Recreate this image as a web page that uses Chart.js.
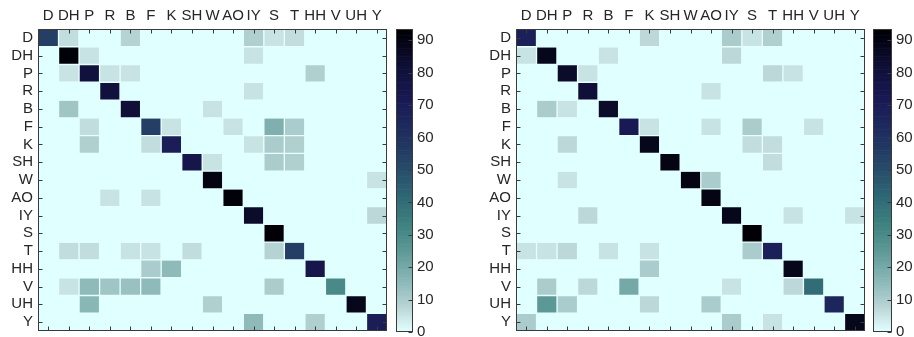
<!DOCTYPE html>
<html>
<head>
<meta charset="utf-8">
<script src="https://cdn.jsdelivr.net/npm/chart.js@4.4.1/dist/chart.umd.min.js"></script>
<style>
  body { margin: 0; background: #fff; width: 914px; height: 337px; position: relative; overflow: hidden; }
  canvas { position: absolute; top: 0; }
</style>
</head>
<body>
<canvas id="cmLeft" style="left:0px;width:400px;height:337px" width="400" height="337"></canvas>
<canvas id="cbLeft" style="left:380px;width:70px;height:337px" width="70" height="337"></canvas>
<canvas id="cmRight" style="left:478px;width:400px;height:337px" width="400" height="337"></canvas>
<canvas id="cbRight" style="left:858px;width:56px;height:337px" width="56" height="337"></canvas>
<script>
// categorias (linha = real, coluna = previsto)
const phones = ['D', 'DH', 'P', 'R', 'B', 'F', 'K', 'SH', 'W', 'AO', 'IY', 'S', 'T', 'HH', 'V', 'UH', 'Y'];

// matriz da esquerda
const leftMatrix = [
    [55, 6, 0, 0, 8, 0, 0, 0, 0, 0, 9, 5, 6, 0, 0, 0, 0],
    [0, 92, 5, 0, 0, 0, 0, 0, 0, 0, 5, 0, 0, 0, 0, 0, 0],
    [0, 5, 80, 5, 5, 0, 0, 0, 0, 0, 0, 0, 0, 9, 0, 0, 0],
    [0, 0, 0, 80, 0, 0, 0, 0, 0, 0, 5, 0, 0, 0, 0, 0, 0],
    [0, 12, 0, 0, 82, 0, 0, 0, 5, 0, 0, 0, 0, 0, 0, 0, 0],
    [0, 0, 6, 0, 0, 55, 5, 0, 0, 5, 0, 18, 10, 0, 0, 0, 0],
    [0, 0, 9, 0, 0, 6, 70, 0, 0, 0, 5, 10, 9, 0, 0, 0, 0],
    [0, 0, 0, 0, 0, 0, 0, 75, 5, 0, 0, 10, 9, 0, 0, 0, 0],
    [0, 0, 0, 0, 0, 0, 0, 0, 90, 0, 0, 0, 0, 0, 0, 0, 5],
    [0, 0, 0, 5, 0, 5, 0, 0, 0, 92, 0, 0, 0, 0, 0, 0, 0],
    [0, 0, 0, 0, 0, 0, 0, 0, 0, 0, 85, 0, 0, 0, 0, 0, 7],
    [0, 0, 0, 0, 0, 0, 0, 0, 0, 0, 0, 93, 0, 0, 0, 0, 0],
    [0, 6, 6, 0, 5, 5, 0, 6, 0, 0, 0, 8, 55, 0, 0, 0, 0],
    [0, 0, 0, 0, 0, 10, 15, 0, 0, 0, 0, 0, 0, 75, 0, 0, 0],
    [0, 5, 15, 12, 13, 15, 0, 0, 0, 0, 0, 10, 0, 0, 30, 0, 0],
    [0, 0, 16, 0, 0, 0, 0, 0, 9, 0, 0, 0, 0, 0, 0, 88, 0],
    [0, 0, 0, 0, 0, 0, 0, 0, 0, 0, 15, 0, 0, 9, 0, 0, 70]
];

// matriz da direita
const rightMatrix = [
    [68, 0, 0, 0, 0, 0, 7, 0, 0, 0, 10, 5, 9, 0, 0, 0, 0],
    [5, 88, 0, 0, 5, 0, 0, 0, 0, 0, 7, 0, 0, 0, 0, 0, 0],
    [0, 0, 85, 5, 0, 0, 0, 0, 0, 0, 0, 0, 7, 5, 0, 0, 0],
    [0, 0, 0, 82, 0, 0, 0, 0, 0, 5, 0, 0, 0, 0, 0, 0, 0],
    [0, 10, 5, 0, 85, 0, 0, 0, 0, 0, 0, 0, 0, 0, 0, 0, 0],
    [0, 0, 0, 0, 0, 72, 5, 0, 0, 5, 0, 10, 0, 0, 5, 0, 0],
    [0, 0, 7, 0, 0, 0, 88, 0, 0, 0, 0, 6, 6, 0, 0, 0, 0],
    [0, 0, 0, 0, 0, 0, 0, 90, 0, 0, 0, 0, 6, 0, 0, 0, 0],
    [0, 0, 5, 0, 0, 0, 0, 0, 90, 10, 0, 0, 0, 0, 0, 0, 0],
    [0, 0, 0, 0, 0, 0, 0, 0, 0, 90, 0, 0, 0, 0, 0, 0, 0],
    [0, 0, 0, 7, 0, 0, 0, 0, 0, 0, 88, 0, 0, 5, 0, 0, 5],
    [0, 0, 0, 0, 0, 0, 0, 0, 0, 0, 0, 95, 0, 0, 0, 0, 0],
    [5, 5, 7, 0, 5, 0, 5, 0, 0, 0, 0, 10, 68, 0, 0, 0, 0],
    [0, 0, 0, 0, 0, 0, 10, 0, 0, 0, 0, 0, 0, 88, 0, 0, 0],
    [0, 10, 0, 7, 0, 20, 0, 0, 0, 0, 5, 0, 0, 7, 40, 0, 0],
    [0, 25, 10, 0, 0, 0, 7, 0, 0, 10, 0, 0, 0, 0, 0, 65, 0],
    [10, 0, 0, 0, 0, 0, 0, 0, 0, 0, 10, 0, 5, 0, 0, 0, 88]
];

// escala de cores
const cbTicks = [0, 10, 20, 30, 40, 50, 60, 70, 80, 90];
const cbMax = 93.5;

const textColor = '#262626';
const axisColor = '#3a3a3a';
const font = { family: "'Liberation Sans', Arial, sans-serif", size: 15 };

const stops = [
    [0, 224, 255, 255],
    [3, 212, 237, 237],
    [8, 182, 211, 211],
    [15, 142, 186, 186],
    [25, 92, 152, 150],
    [33, 62, 130, 128],
    [42, 46, 102, 116],
    [52, 38, 70, 104],
    [62, 30, 44, 94],
    [72, 25, 25, 84],
    [82, 15, 15, 55],
    [93, 0, 0, 6]
];

function colorFor(v) {
    v = Math.max(0, Math.min(cbMax, v));
    for (let i = 1; i < stops.length; i++) {
        const a = stops[i - 1], b = stops[i];
        if (v <= b[0] || i === stops.length - 1) {
            const t = Math.min(1, (v - a[0]) / (b[0] - a[0]));
            const c = [1, 2, 3].map(k => Math.round(a[k] + (b[k] - a[k]) * t));
            return `rgb(${c[0]},${c[1]},${c[2]})`;
        }
    }
}

// moldura + ticks para dentro (estilo matlab)
const frame = {
    id: 'frame',
    beforeDatasetsDraw(chart) {
        const { ctx, chartArea: a } = chart;
        ctx.save();
        ctx.fillStyle = colorFor(0);
        ctx.fillRect(a.left, a.top, a.width, a.height);
        ctx.restore();
    },
    afterDraw(chart, args, opts) {
        const { ctx, chartArea: a, scales } = chart;
        const L = Math.round(a.left) + 0.5, R = Math.round(a.right) - 0.5;
        const T = Math.round(a.top) + 0.5, B = Math.round(a.bottom) - 0.5;
        const len = 4;
        ctx.save();
        ctx.strokeStyle = axisColor;
        ctx.lineWidth = 1;
        ctx.beginPath();
        if (opts.xTicks) {
            scales.x.ticks.forEach((_, i) => {
                const x = Math.round(scales.x.getPixelForTick(i)) + 0.5;
                ctx.moveTo(x, T); ctx.lineTo(x, T + len);
                ctx.moveTo(x, B); ctx.lineTo(x, B - len);
            });
        }
        scales.y.ticks.forEach((_, i) => {
            const y = Math.round(scales.y.getPixelForTick(i)) + 0.5;
            if (opts.yLeft) { ctx.moveTo(L, y); ctx.lineTo(L + len, y); }
            ctx.moveTo(R, y); ctx.lineTo(R - len, y);
        });
        ctx.stroke();
        ctx.strokeRect(L, T, R - L, B - T);
        ctx.restore();
    }
};

function matrixChart(id, matrix) {
    const datasets = matrix.map((row, r) => ({
        data: row.map(() => [r, r + 1]),
        backgroundColor: row.map(v => colorFor(v)),
        borderColor: 'rgba(255,255,255,0.28)',
        borderWidth: row.map(v => (v > 0 ? 1 : 0)),
        borderSkipped: false,
        barPercentage: 1,
        categoryPercentage: 1,
        grouped: false
    }));
    return new Chart(document.getElementById(id), {
        type: 'bar',
        data: { labels: phones, datasets },
        options: {
            responsive: false,
            animation: false,
            layout: { padding: { right: 13, bottom: 6 } },
            plugins: { legend: { display: false }, tooltip: { enabled: false }, frame: { xTicks: true, yLeft: true } },
            scales: {
                x: {
                    position: 'top',
                    grid: { display: false, drawTicks: false },
                    border: { display: false },
                    ticks: { color: textColor, font, padding: 4, maxRotation: 0, autoSkip: false },
                    afterFit: s => { s.height = 29; s.paddingLeft = 0; s.paddingRight = 0; }
                },
                y: {
                    min: 0, max: 17, reverse: true,
                    grid: { display: false, drawTicks: false },
                    border: { display: false },
                    afterBuildTicks: s => { s.ticks = phones.map((_, i) => ({ value: i + 0.5 })); },
                    ticks: { color: textColor, font, padding: 5, autoSkip: false, callback: v => phones[Math.floor(v)] },
                    afterFit: s => { s.width = 38; s.paddingTop = 0; s.paddingBottom = 0; }
                }
            }
        },
        plugins: [frame]
    });
}

function colorbarChart(id, padLeft, padRight, axisWidth) {
    const step = 0.5;
    const datasets = [];
    for (let v = 0; v < cbMax; v += step) {
        datasets.push({
            data: [[v, v + step]],
            backgroundColor: colorFor(v + step / 2),
            borderWidth: 0,
            barPercentage: 1,
            categoryPercentage: 1,
            grouped: false
        });
    }
    return new Chart(document.getElementById(id), {
        type: 'bar',
        data: { labels: [''], datasets },
        options: {
            responsive: false,
            animation: false,
            layout: { padding: { left: padLeft, right: padRight, top: 29, bottom: 5 } },
            plugins: { legend: { display: false }, tooltip: { enabled: false }, frame: { xTicks: false, yLeft: false } },
            scales: {
                x: { display: false },
                y: {
                    position: 'right',
                    min: 0, max: cbMax,
                    grid: { display: false, drawTicks: false },
                    border: { display: false },
                    afterBuildTicks: s => { s.ticks = cbTicks.map(v => ({ value: v })); },
                    ticks: { color: textColor, font, padding: 4 },
                    afterFit: s => { s.width = axisWidth; s.paddingTop = 0; s.paddingBottom = 0; }
                }
            }
        },
        plugins: [frame]
    });
}

matrixChart('cmLeft', leftMatrix);
matrixChart('cmRight', rightMatrix);
colorbarChart('cbLeft', 16, 7, 30);
colorbarChart('cbRight', 15, 0, 22);
</script>
</body>
</html>
